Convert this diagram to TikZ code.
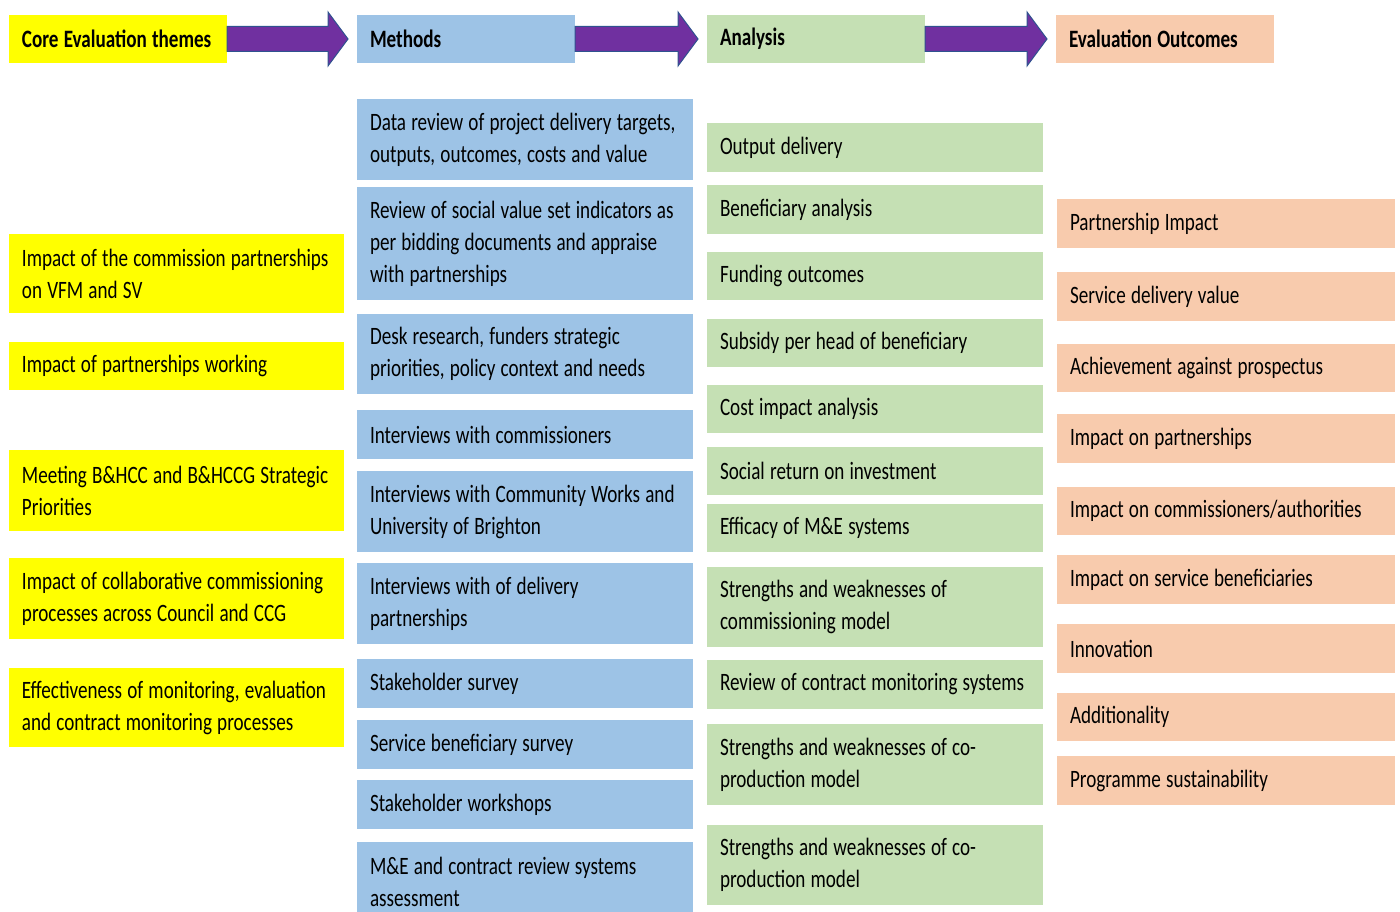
\documentclass[tikz,border=0pt]{standalone}
\usepackage{fontspec}
\setmainfont{Carlito}[FakeStretch=0.765]
\usepackage{tikz}
\usetikzlibrary{
        calc,
        positioning
    }
\definecolor{themeyellow}{HTML}{FFFF00}
\definecolor{methblue}{HTML}{9DC3E6}
\definecolor{anagreen}{HTML}{C5E0B4}
\definecolor{outcpeach}{HTML}{F8CBAD}
\definecolor{arrpurple}{HTML}{7030A0}
\definecolor{arrline}{HTML}{2F528F}
\tikzset{box/.style={rectangle,inner xsep=0pt,inner ysep=0pt,outer sep=0pt,
        align=left,anchor=north west,text=black,font=\fontsize{25}{32}\selectfont,
        execute at begin node={\hyphenpenalty=10000\leftskip=13pt\spaceskip=5.2pt\xspaceskip=5.2pt\relax}}}
\tikzset{head/.style={box,text width=218pt,minimum height=48pt,
        font=\fontsize{25}{30}\selectfont\bfseries}}
\tikzset{theme/.style={box,fill=themeyellow,text width=335pt}}
\tikzset{meth/.style={box,fill=methblue,text width=336pt}}
\tikzset{ana/.style={box,fill=anagreen,text width=336pt}}
\tikzset{outc/.style={box,fill=outcpeach,text width=338pt}}
\tikzset{fatarr/.style={fill=arrpurple,draw=arrline,line width=1pt,line join=miter}}

\begin{document}
\begin{tikzpicture}[x=1pt,y=-1pt]
                \useasboundingbox (0,0) rectangle (1400,912);
                % headers
                \node[head,fill=themeyellow] (h1) at (9,15) {Core Evaluation themes};
                \node[head,fill=methblue] (h2) at (357,15) {Methods};
                \node[head,fill=anagreen] (h3) at (707,15) {Analysis};
                \node[head,fill=outcpeach] (h4) at (1056,15) {Evaluation Outcomes};
                \foreach \a/\b in {h1/h2,h2/h3,h3/h4}
                    \draw[fatarr] let \p1=(\a.east), \p2=(\b.west) in
                        (\x1,\y1+12.5pt) -- (\x2-29pt,\y1+12.5pt) -- (\x2-29pt,\y1+27pt)
                        -- (\x2-9pt,\y1) -- (\x2-29pt,\y1-27pt) -- (\x2-29pt,\y1-12.5pt)
                        -- (\x1,\y1-12.5pt) -- cycle;
                % core evaluation themes
                \node[theme,minimum height=79pt] (t1) at (9,234) {Impact of the commission partnerships\\on VFM and SV};
                \node[theme,minimum height=48pt] (t2) [below=29pt of t1] {Impact of partnerships working};
                \node[theme,minimum height=81pt] (t3) [below=60pt of t2] {Meeting B\&HCC and B\&HCCG Strategic\\Priorities};
                \node[theme,minimum height=81pt] (t4) [below=27pt of t3] {Impact of collaborative commissioning\\processes across Council and CCG};
                \node[theme,minimum height=79pt] (t5) [below=29pt of t4] {Effectiveness of monitoring, evaluation\\and contract monitoring processes};
                % methods
                \node[meth,minimum height=81pt] (m1) at (357,99) {Data review of project delivery targets,\\outputs, outcomes, costs and value};
                \node[meth,minimum height=113pt] (m2) [below=7pt of m1] {Review of social value set indicators as\\per bidding documents and appraise\\with partnerships};
                \node[meth,minimum height=80pt] (m3) [below=14pt of m2] {Desk research, funders strategic\\priorities, policy context and needs};
                \node[meth,minimum height=49pt] (m4) [below=16pt of m3] {Interviews with commissioners};
                \node[meth,minimum height=81pt] (m5) [below=12pt of m4] {Interviews with Community Works and\\University of Brighton};
                \node[meth,minimum height=81pt] (m6) [below=11pt of m5] {Interviews with of delivery\\partnerships};
                \node[meth,minimum height=49pt] (m7) [below=15pt of m6] {Stakeholder survey};
                \node[meth,minimum height=49pt] (m8) [below=12pt of m7] {Service beneficiary survey};
                \node[meth,minimum height=49pt] (m9) [below=11pt of m8] {Stakeholder workshops};
                \node[meth,minimum height=80pt] (m10) [below=13pt of m9] {M\&E and contract review systems\\assessment};
                % analysis
                \node[ana,minimum height=49pt] (a1) at (707,123) {Output delivery};
                \node[ana,minimum height=49pt] (a2) [below=13pt of a1] {Beneficiary analysis};
                \node[ana,minimum height=48pt] (a3) [below=18pt of a2] {Funding outcomes};
                \node[ana,minimum height=48pt] (a4) [below=19pt of a3] {Subsidy per head of beneficiary};
                \node[ana,minimum height=48pt] (a5) [below=18pt of a4] {Cost impact analysis};
                \node[ana,minimum height=48pt] (a6) [below=14pt of a5] {Social return on investment};
                \node[ana,minimum height=48pt] (a7) [below=9pt of a6] {Efficacy of M\&E systems};
                \node[ana,minimum height=80pt] (a8) [below=15pt of a7] {Strengths and weaknesses of\\commissioning model};
                \node[ana,minimum height=49pt] (a9) [below=13pt of a8] {Review of contract monitoring systems};
                \node[ana,minimum height=81pt] (a10) [below=15pt of a9] {Strengths and weaknesses of co-\\production model};
                \node[ana,minimum height=80pt] (a11) [below=20pt of a10] {Strengths and weaknesses of co-\\production model};
                % evaluation outcomes
                \node[outc,minimum height=49pt] (o1) at (1057,199) {Partnership Impact};
                \node[outc,minimum height=49pt] (o2) [below=24pt of o1] {Service delivery value};
                \node[outc,minimum height=48pt] (o3) [below=23pt of o2] {Achievement against prospectus};
                \node[outc,minimum height=49pt] (o4) [below=22pt of o3] {Impact on partnerships};
                \node[outc,minimum height=48pt] (o5) [below=24pt of o4] {Impact on commissioners/authorities};
                \node[outc,minimum height=49pt] (o6) [below=20pt of o5] {Impact on service beneficiaries};
                \node[outc,minimum height=49pt] (o7) [below=20pt of o6] {Innovation};
                \node[outc,minimum height=48pt] (o8) [below=20pt of o7] {Additionality};
                \node[outc,minimum height=49pt] (o9) [below=15pt of o8] {Programme sustainability};
            \end{tikzpicture}
\end{document}
